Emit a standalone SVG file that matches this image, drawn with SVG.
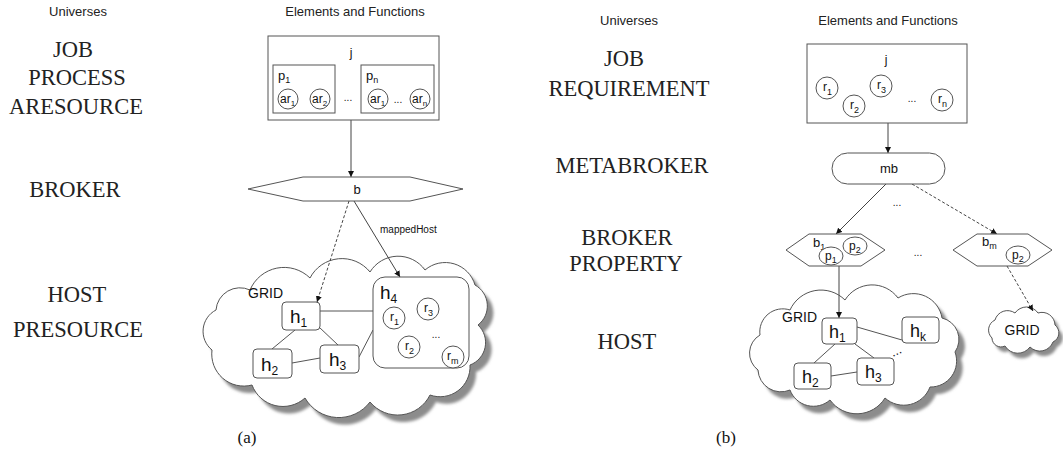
<svg xmlns="http://www.w3.org/2000/svg" width="1063" height="465" viewBox="0 0 1063 465">
<style>
.hdr{font-family:"Liberation Sans",Arial,sans-serif;font-size:13px;fill:#222;text-anchor:middle}
.uni{font-family:"Liberation Serif","Times New Roman",serif;font-size:22.5px;fill:#222;text-anchor:middle}
.cap{font-family:"Liberation Serif","Times New Roman",serif;font-size:17px;fill:#111;text-anchor:middle}
.lbl{font-family:"Liberation Sans",Arial,sans-serif;font-size:12px;fill:#111}
.big{font-family:"Liberation Sans",Arial,sans-serif;font-size:19px;fill:#111}
.grid{font-family:"Liberation Sans",Arial,sans-serif;font-size:14px;fill:#111}
.box{fill:#fff;stroke:#555;stroke-width:1}
.circ{fill:#fff;stroke:#555;stroke-width:1}
.cloud{fill:#fff;stroke:#555;stroke-width:1}
.shadow{fill:#8c8c8c;stroke:none}
.edge{stroke:#444;stroke-width:1;fill:none}
.dash{stroke:#444;stroke-width:1;fill:none;stroke-dasharray:3 2}
.link{stroke:#555;stroke-width:1;fill:none}
</style>
<defs>
<marker id="arr" markerWidth="7" markerHeight="7" refX="6" refY="3" orient="auto" markerUnits="userSpaceOnUse">
<path d="M0,0 L6,3 L0,6 Z" fill="#111"/>
</marker>
<filter id="blur" x="-10%" y="-10%" width="120%" height="120%"><feGaussianBlur stdDeviation="1.5"/></filter>
<path id="cloudA" d="M212,350 A24,24 0 0 1 216,310 A24,24 0 0 1 250,290 A37,37 0 0 1 310,278 A36,36 0 0 1 370,272 A33,33 0 0 1 425,270 A31,31 0 0 1 475,285 A24,24 0 0 1 478,325 A24,24 0 0 1 470,365 A30,30 0 0 1 430,395 A36,36 0 0 1 370,402 A39,39 0 0 1 305,398 A33,33 0 0 1 252,385 A32,32 0 0 1 212,350 Z"/>
<path id="cloudB" d="M758,370 A21,21 0 0 1 760,335 A23,23 0 0 1 790,310 A34,34 0 0 1 845,300 A32,32 0 0 1 898,298 A29,29 0 0 1 942,318 A22,22 0 0 1 955,352 A26,26 0 0 1 930,387 A28,28 0 0 1 885,398 A33,33 0 0 1 830,400 A25,25 0 0 1 790,390 A23,23 0 0 1 758,370 Z"/>
<path id="cloudC" d="M992,338 A11,11 0 0 1 995,320 A13,13 0 0 1 1015,313 A14,14 0 0 1 1038,313 A13,13 0 0 1 1055,325 A10,10 0 0 1 1053,342 A14,14 0 0 1 1030,347 A15,15 0 0 1 1005,346 A9,9 0 0 1 992,338 Z"/>
</defs>
<rect width="1063" height="465" fill="#fff"/>

<g id="labels-a">
<text class="hdr" x="78" y="16">Universes</text>
<text class="hdr" x="355" y="16">Elements and Functions</text>
<text class="uni" x="73" y="57">JOB</text>
<text class="uni" x="77" y="85">PROCESS</text>
<text class="uni" x="76" y="114">ARESOURCE</text>
<text class="uni" x="75" y="197">BROKER</text>
<text class="uni" x="77" y="302">HOST</text>
<text class="uni" x="78" y="337">PRESOURCE</text>
<text class="cap" x="247" y="443">(a)</text>
</g>
<g id="labels-b">
<text class="hdr" x="629" y="25">Universes</text>
<text class="hdr" x="888" y="25">Elements and Functions</text>
<text class="uni" x="624" y="66">JOB</text>
<text class="uni" x="629" y="96">REQUIREMENT</text>
<text class="uni" x="632" y="173">METABROKER</text>
<text class="uni" x="627" y="245">BROKER</text>
<text class="uni" x="626" y="271">PROPERTY</text>
<text class="uni" x="627" y="349">HOST</text>
<text class="cap" x="726" y="443">(b)</text>
</g>

<g id="gridA">
<use href="#cloudA" class="shadow" transform="translate(6,7)" filter="url(#blur)"/>
<use href="#cloudA" class="cloud"/>
<text class="grid" x="248" y="298">GRID</text>
</g>
<g id="gridB">
<use href="#cloudB" class="shadow" transform="translate(6,7)" filter="url(#blur)"/>
<use href="#cloudB" class="cloud"/>
<text class="grid" x="782" y="322">GRID</text>
</g>
<g id="gridC">
<use href="#cloudC" class="shadow" transform="translate(4,5)" filter="url(#blur)"/>
<use href="#cloudC" class="cloud"/>
<text class="grid" x="1022" y="335" text-anchor="middle">GRID</text>
</g>

<g id="connectors">
<line class="edge" x1="351" y1="120" x2="351" y2="177" marker-end="url(#arr)"/>
<line class="dash" x1="349" y1="201" x2="317" y2="302" marker-end="url(#arr)"/>
<line class="edge" x1="354" y1="201" x2="400" y2="277" marker-end="url(#arr)"/>
<text class="lbl" x="380" y="233" style="font-size:10px">mappedHost</text>
<line class="link" x1="320" y1="311" x2="373" y2="311"/>
<line class="link" x1="295" y1="330" x2="272" y2="349"/>
<line class="link" x1="319" y1="327" x2="338" y2="345"/>
<line class="link" x1="292" y1="363" x2="320" y2="358"/>
<line class="link" x1="359" y1="357" x2="373" y2="330"/>

<line class="edge" x1="888" y1="123" x2="888" y2="153" marker-end="url(#arr)"/>
<line class="edge" x1="886" y1="184" x2="836" y2="234" marker-end="url(#arr)"/>
<line class="dash" x1="912" y1="184" x2="997" y2="234" marker-end="url(#arr)"/>
<text class="lbl" x="897" y="206" text-anchor="middle" style="font-size:10px">...</text>
<text class="lbl" x="918" y="256" text-anchor="middle" style="font-size:10px">...</text>
<line class="edge" x1="839" y1="266" x2="839" y2="318" marker-end="url(#arr)"/>
<line class="dash" x1="1007" y1="266" x2="1033" y2="311" marker-end="url(#arr)"/>
<line class="link" x1="857" y1="327" x2="902" y2="340"/>
<line class="link" x1="835" y1="344" x2="814" y2="363"/>
<line class="link" x1="855" y1="344" x2="874" y2="358"/>
<line class="link" x1="831" y1="376" x2="857" y2="372"/>
<text class="lbl" x="890" y="355" transform="rotate(-25 896 350)" style="font-size:13px">...</text>
</g>

<g id="jobA">
<rect class="box" x="268" y="36" width="171" height="84"/>
<text class="lbl" x="351" y="57" text-anchor="middle">j</text>
<rect class="box" x="273" y="65" width="62" height="48"/>
<text class="lbl" x="278" y="80" style="font-size:13px">p<tspan dy="3" style="font-size:9px">1</tspan></text>
<circle class="circ" cx="288" cy="99" r="10"/>
<text class="lbl" x="280" y="103">ar<tspan dy="3" style="font-size:8px">1</tspan></text>
<circle class="circ" cx="320" cy="99" r="10"/>
<text class="lbl" x="312" y="103">ar<tspan dy="3" style="font-size:8px">2</tspan></text>
<text class="lbl" x="348" y="101" text-anchor="middle" style="font-size:10px">...</text>
<rect class="box" x="361" y="65" width="73" height="48"/>
<text class="lbl" x="366" y="80" style="font-size:13px">p<tspan dy="3" style="font-size:9px">n</tspan></text>
<circle class="circ" cx="378" cy="99" r="10"/>
<text class="lbl" x="370" y="103">ar<tspan dy="3" style="font-size:8px">1</tspan></text>
<text class="lbl" x="398" y="103" text-anchor="middle" style="font-size:10px">...</text>
<circle class="circ" cx="420" cy="99" r="10"/>
<text class="lbl" x="412" y="103">ar<tspan dy="3" style="font-size:8px">n</tspan></text>
</g>
<g id="brokerA">
<polygon class="box" points="248,189 303,177 410,177 463,189 410,201 303,201"/>
<text class="lbl" x="357" y="194" text-anchor="middle" style="font-size:13px">b</text>
</g>
<g id="h1A">
<rect class="box" x="282" y="302" width="38" height="28" rx="4"/>
<text class="big" x="290" y="323">h<tspan dy="4" style="font-size:12px">1</tspan></text>
</g>
<g id="h2A">
<rect class="box" x="253" y="349" width="39" height="29" rx="4"/>
<text class="big" x="261" y="371">h<tspan dy="4" style="font-size:12px">2</tspan></text>
</g>
<g id="h3A">
<rect class="box" x="320" y="345" width="39" height="28" rx="4"/>
<text class="big" x="329" y="366">h<tspan dy="4" style="font-size:12px">3</tspan></text>
</g>
<g id="h4A">
<rect class="box" x="373" y="277" width="96" height="91" rx="12"/>
<text class="big" x="380" y="299">h<tspan dy="4" style="font-size:12px">4</tspan></text>
<circle class="circ" cx="394" cy="318" r="11"/>
<text class="lbl" x="390" y="321">r<tspan dy="4" style="font-size:9px">1</tspan></text>
<circle class="circ" cx="428" cy="309" r="11"/>
<text class="lbl" x="424" y="312">r<tspan dy="4" style="font-size:9px">3</tspan></text>
<circle class="circ" cx="409" cy="347" r="11"/>
<text class="lbl" x="405" y="350">r<tspan dy="4" style="font-size:9px">2</tspan></text>
<text class="lbl" x="436" y="338" text-anchor="middle" style="font-size:10px">...</text>
<circle class="circ" cx="453" cy="357" r="11"/>
<text class="lbl" x="447" y="360">r<tspan dy="4" style="font-size:9px">m</tspan></text>
</g>

<g id="jobB">
<rect class="box" x="807" y="44" width="160" height="79"/>
<text class="lbl" x="886" y="64" text-anchor="middle">j</text>
<circle class="circ" cx="827" cy="88" r="11"/>
<text class="lbl" x="823" y="91">r<tspan dy="4" style="font-size:9px">1</tspan></text>
<circle class="circ" cx="854" cy="106" r="11"/>
<text class="lbl" x="850" y="109">r<tspan dy="4" style="font-size:9px">2</tspan></text>
<circle class="circ" cx="881" cy="86" r="11"/>
<text class="lbl" x="877" y="89">r<tspan dy="4" style="font-size:9px">3</tspan></text>
<text class="lbl" x="912" y="102" text-anchor="middle" style="font-size:10px">...</text>
<circle class="circ" cx="942" cy="100" r="11"/>
<text class="lbl" x="938" y="103">r<tspan dy="4" style="font-size:9px">n</tspan></text>
</g>
<g id="mb">
<rect class="box" x="832" y="153" width="113" height="31" rx="15.5"/>
<text class="lbl" x="889" y="173" text-anchor="middle" style="font-size:13px">mb</text>
</g>
<g id="b1">
<polygon class="box" points="786,250 809,234 861,234 885,250 861,266 809,266"/>
<text class="lbl" x="813" y="247" style="font-size:13px">b<tspan dy="3" style="font-size:9px">1</tspan></text>
<ellipse class="circ" cx="855" cy="246" rx="12" ry="9"/>
<text class="lbl" x="849" y="250">p<tspan dy="3" style="font-size:9px">2</tspan></text>
<ellipse class="circ" cx="831" cy="256" rx="12" ry="9"/>
<text class="lbl" x="825" y="260">p<tspan dy="3" style="font-size:9px">1</tspan></text>
</g>
<g id="bm">
<polygon class="box" points="953,250 977,234 1028,234 1052,250 1028,266 977,266"/>
<text class="lbl" x="982" y="246" style="font-size:13px">b<tspan dy="3" style="font-size:9px">m</tspan></text>
<ellipse class="circ" cx="1018" cy="255" rx="12" ry="9"/>
<text class="lbl" x="1012" y="259">p<tspan dy="3" style="font-size:9px">2</tspan></text>
</g>
<g id="h1B">
<rect class="box" x="822" y="318" width="35" height="26" rx="4"/>
<text class="big" x="829" y="338" style="font-size:18px">h<tspan dy="4" style="font-size:12px">1</tspan></text>
</g>
<g id="hkB">
<rect class="box" x="902" y="317" width="37" height="26" rx="4"/>
<text class="big" x="910" y="337" style="font-size:18px">h<tspan dy="4" style="font-size:12px">k</tspan></text>
</g>
<g id="h2B">
<rect class="box" x="794" y="363" width="37" height="26" rx="4"/>
<text class="big" x="802" y="383" style="font-size:18px">h<tspan dy="4" style="font-size:12px">2</tspan></text>
</g>
<g id="h3B">
<rect class="box" x="857" y="358" width="37" height="27" rx="4"/>
<text class="big" x="865" y="378" style="font-size:18px">h<tspan dy="4" style="font-size:12px">3</tspan></text>
</g>
</svg>
